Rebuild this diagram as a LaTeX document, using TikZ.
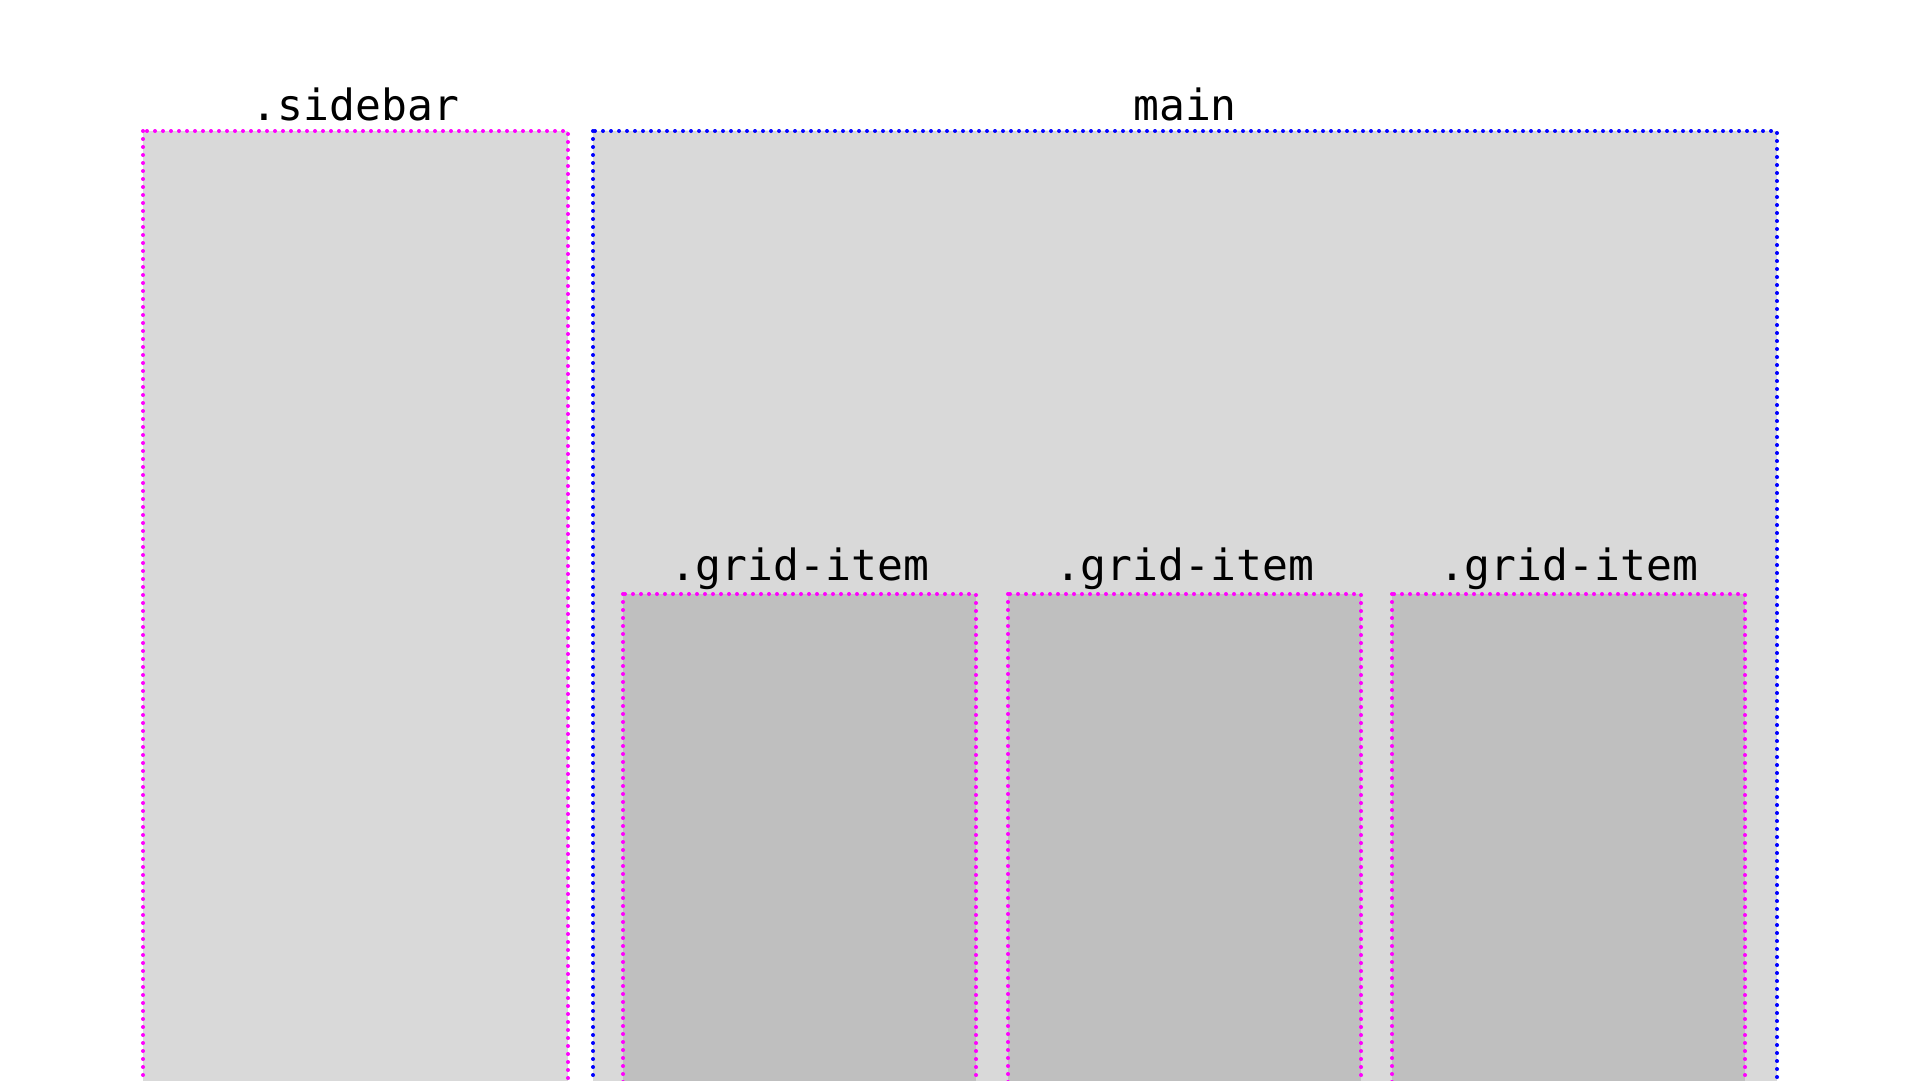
\documentclass[tikz,border=0pt]{standalone}
\usepackage{fontspec}
\usepackage{xcolor}
\newfontfamily\codefont{DejaVu Sans Mono}

\begin{document}
\begin{tikzpicture}[x=1pt,y=-1pt]
    \definecolor{LightGray}{HTML}{d9d9d9}
    \definecolor{MidGray}{HTML}{bfbfbf}
    \definecolor{Magenta}{HTML}{ff00ff}
    \definecolor{PureBlue}{HTML}{0000ff}
    \tikzset{
        dots/.style={line width=4pt, line cap=round, dash pattern=on 0pt off 8pt},
        tag/.style={anchor=base, inner sep=0pt, font=\codefont\fontsize{43}{50}\selectfont}
    }
    \useasboundingbox (0,0) rectangle (1920,1080);
    \clip (0,0) rectangle (1920,1080);
    % sidebar
    \coordinate (S1) at (143,131);
    \coordinate (S2) at (568,1100);
    \draw[dots, draw=Magenta, fill=LightGray] (S1) rectangle (S2);
    \node[tag] (sidebarname) at (355.5,120) {.sidebar};
    % main
    \coordinate (M1) at (593,131);
    \coordinate (M2) at (1777,1100);
    \draw[dots, draw=PureBlue, fill=LightGray] (M1) rectangle (M2);
    \node[tag] (mainname) at (1185,120) {main};
    % grid items
    \foreach \x [count=\i] in {623, 1008, 1392}{
        \draw[dots, draw=Magenta, fill=MidGray] (\x,594) rectangle +(353,520);
        \node[tag] (itemname\i) at (\x+176.5,580) {.grid-item};
    }
\end{tikzpicture}
\end{document}
